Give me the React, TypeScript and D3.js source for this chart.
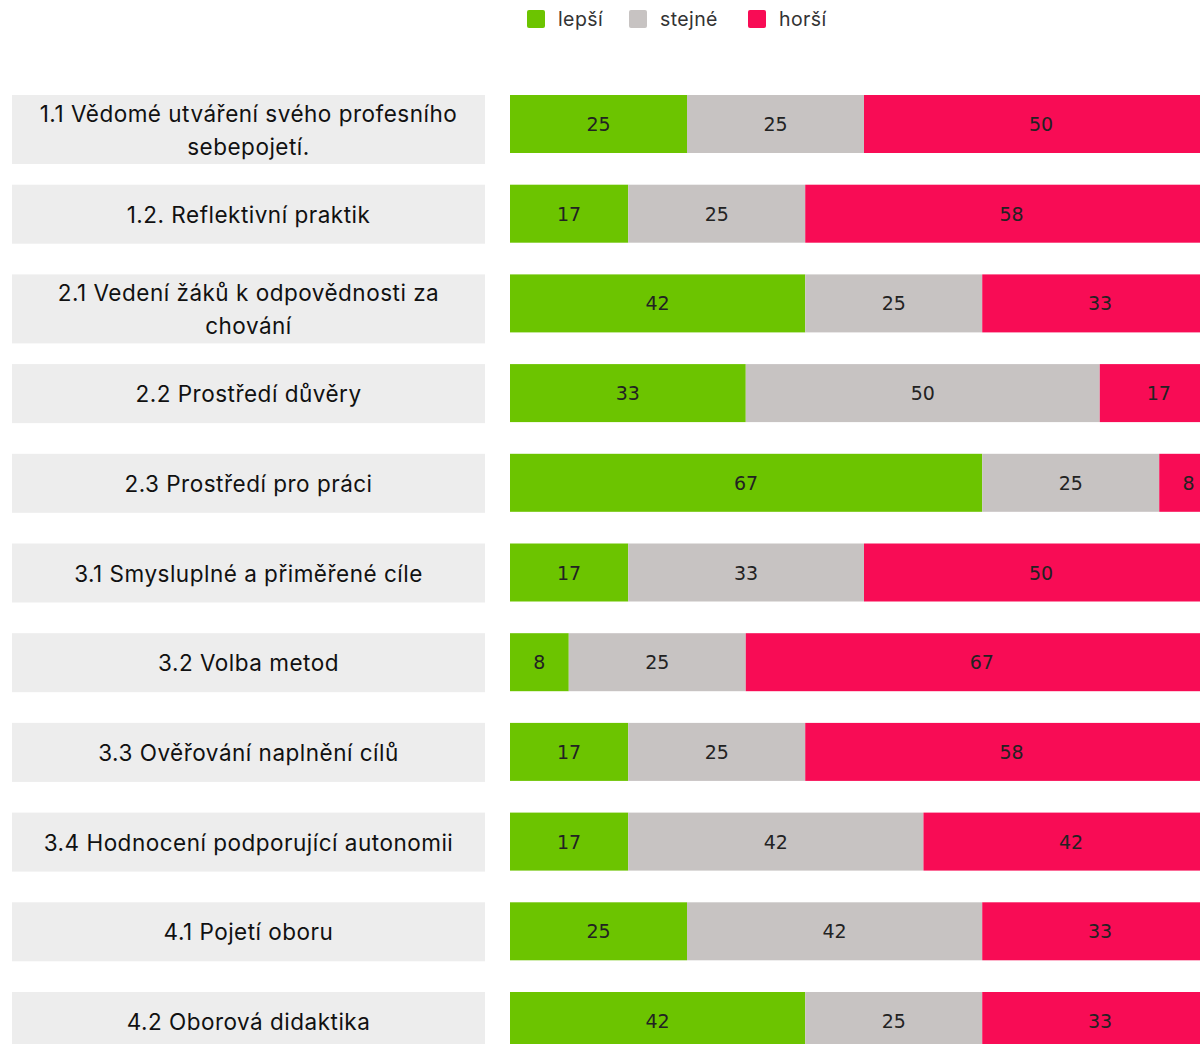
import React from "react";
import * as d3 from "d3";

const categories: string[] = [
  "1.1 Vědomé utváření svého profesního|sebepojetí.",
  "1.2. Reflektivní praktik",
  "2.1 Vedení žáků k odpovědnosti za|chování",
  "2.2 Prostředí důvěry",
  "2.3 Prostředí pro práci",
  "3.1 Smysluplné a přiměřené cíle",
  "3.2 Volba metod",
  "3.3 Ověřování naplnění cílů",
  "3.4 Hodnocení podporující autonomii",
  "4.1 Pojetí oboru",
  "4.2 Oborová didaktika",
];

const seriesNames: string[] = ["lepší", "stejné", "horší"];
const seriesColors: string[] = ["#6cc400", "#c7c3c2", "#f80c55"];

const better: number[] = [25, 16.7, 41.7, 33.3, 66.7, 16.7, 8.3, 16.7, 16.7, 25, 41.7];
const same: number[] = [25, 25, 25, 50, 25, 33.3, 25, 25, 41.7, 41.7, 25];
const worse: number[] = [50, 58.3, 33.3, 16.7, 8.3, 50, 66.7, 58.3, 41.7, 33.3, 33.3];

export default function App() {
  const W = 1200;
  const H = 1044;
  const fmt = d3.format(".0f");

  const rows = categories.map((c, i) => ({
    key: c,
    lepší: better[i],
    stejné: same[i],
    horší: worse[i],
  }));

  const stack = d3.stack<any>().keys(seriesNames);
  const stacked = stack(rows);

  const x = d3.scaleLinear().domain([0, 100]).range([510, 1218]);
  const step = 89.7;
  const bw = 58;
  const y = d3
    .scaleBand<string>()
    .domain(categories)
    .range([95, 95 + step * (categories.length - 1) + bw])
    .paddingInner((step - bw) / step)
    .paddingOuter(0);

  const labelFont = "Inter, 'Noto Sans', sans-serif";
  const valueFont = "'DejaVu Sans', Verdana, sans-serif";

  const legendX = d3.scaleOrdinal<string, number>().domain(seriesNames).range([527, 629, 748]);

  return (
    <svg
      width={W}
      height={H}
      style={{ position: "absolute", left: 0, top: 0, background: "#fff" }}
    >
      {/* legend */}
      {seriesNames.map((s, i) => (
        <g key={s} transform={`translate(${legendX(s)},10)`}>
          <rect width={18} height={18} rx={2} fill={seriesColors[i]} />
          <text
            x={31}
            y={9}
            dominantBaseline="central"
            fontFamily={labelFont}
            fontSize={19.5}
            letterSpacing={0.4}
            fill="#333"
          >
            {s}
          </text>
        </g>
      ))}

      {/* category label boxes */}
      {categories.map((c) => {
        const lines = c.split("|");
        const top = y(c)!;
        const h = lines.length > 1 ? 69 : 59;
        const cy = top + h / 2;
        const lh = 33;
        return (
          <g key={c}>
            <rect x={12} y={top} width={473} height={h} fill="#ededed" />
            {lines.map((ln, j) => (
              <text
                key={j}
                x={248.5}
                y={cy + (j - (lines.length - 1) / 2) * lh}
                textAnchor="middle"
                dominantBaseline="central"
                fontFamily={labelFont}
                fontSize={22.5}
                letterSpacing={0.5}
                fill="#111"
              >
                {ln}
              </text>
            ))}
          </g>
        );
      })}

      {/* bars */}
      {stacked.map((layer, si) => (
        <g key={layer.key}>
          {layer.map((d: any, i: number) => {
            const cat = categories[i];
            const x0 = x(d[0]);
            const x1 = x(d[1]);
            const v = d[1] - d[0];
            return (
              <g key={cat}>
                <rect
                  x={x0}
                  y={y(cat)!}
                  width={Math.max(0, x1 - x0)}
                  height={y.bandwidth()}
                  fill={seriesColors[si]}
                />
                <text
                  x={(x0 + x1) / 2}
                  y={y(cat)! + y.bandwidth() / 2}
                  textAnchor="middle"
                  dominantBaseline="central"
                  fontFamily={valueFont}
                  fontSize={19}
                  fill="#222"
                >
                  {fmt(v)}
                </text>
              </g>
            );
          })}
        </g>
      ))}
    </svg>
  );
}
